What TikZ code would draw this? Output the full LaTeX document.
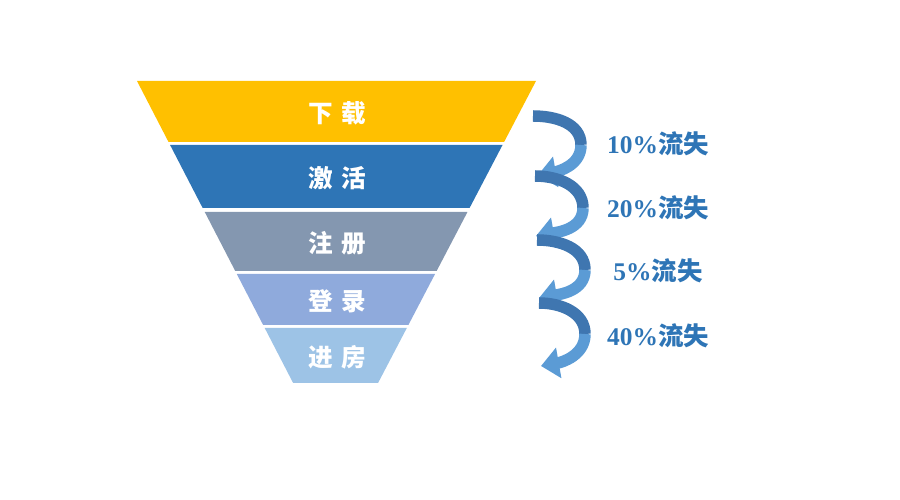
\documentclass[tikz,border=0pt]{standalone}
\usepackage{fontspec}
\setmainfont{Liberation Serif}
\newfontfamily\cjk{Noto Sans CJK SC}
\usepackage{tikz}
\usetikzlibrary{arrows.meta,positioning}
\definecolor{fyellow}{HTML}{FFC000}
\definecolor{fblue}{HTML}{2E75B6}
\definecolor{fgray}{HTML}{8497B0}
\definecolor{flight}{HTML}{8FAADC}
\definecolor{fpale}{HTML}{9DC3E6}
\definecolor{ribdark}{HTML}{3F76B0}
\definecolor{riblight}{HTML}{5B9BD5}
\definecolor{losstext}{HTML}{2E75B6}

\begin{document}
\begin{tikzpicture}[x=0.02cm,y=0.02cm,
  band/.style={font=\cjk\bfseries\fontsize{14}{14}\selectfont,text=white},
  loss/.style={font=\bfseries\fontsize{14.5}{14.5}\selectfont,text=losstext},
  ribbon/.style={line width=0.23cm,ribdark},
  ribbontip/.style={line width=0.23cm,riblight,-{Triangle[width=0.6cm,length=0.36cm]}}]
  \useasboundingbox (0,0) rectangle (900,500);
  % funnel bands
  \foreach \ya/\yb/\col/\txt [count=\i] in
    {419/358/fyellow/{下\hspace{.35em}载},
     355/292/fblue/{激\hspace{.35em}活},
     288/229/fgray/{注\hspace{.35em}册},
     226/175/flight/{登\hspace{.35em}录},
     172/117/fpale/{进\hspace{.35em}房}} {
    \fill[\col] ({137+0.517*(419-\ya)},\ya) -- ({536-0.523*(419-\ya)},\ya)
      -- ({536-0.523*(419-\yb)},\yb) -- ({137+0.517*(419-\yb)},\yb) -- cycle;
    \node[band] (s\i) at (337,{(\ya+\yb)/2-2}) {\txt};
  }
  % loss labels
  \node[loss] (l1) at (658,356) {10\%{\cjk 流失}};
  \node[loss] (l2) at (658,292) {20\%{\cjk 流失}};
  \node[loss] (l3) at (658,229) {5\%{\cjk 流失}};
  \node[loss] (l4) at (658,164) {40\%{\cjk 流失}};
  % spiral arrows
  \coordinate (a1) at (533,384);
  \coordinate (a2) at (535,324);
  \coordinate (a3) at (537,260);
  \coordinate (a4) at (539,197);
  \coordinate (m1) at (581,355);
  \coordinate (m2) at (583,292);
  \coordinate (m3) at (585,230);
  \coordinate (m4) at (585,166);
  \coordinate (b1) at (538,325);
  \coordinate (b2) at (536,264);
  \coordinate (b3) at (539,202);
  \coordinate (b4) at (541,134);
  \foreach \i in {1,...,4} {
    \draw[ribbon] (a\i) to[out=0,in=90] (m\i);
    \draw[ribbontip] (m\i) to[out=-90,in=10] (b\i);
  }
\end{tikzpicture}
\end{document}
